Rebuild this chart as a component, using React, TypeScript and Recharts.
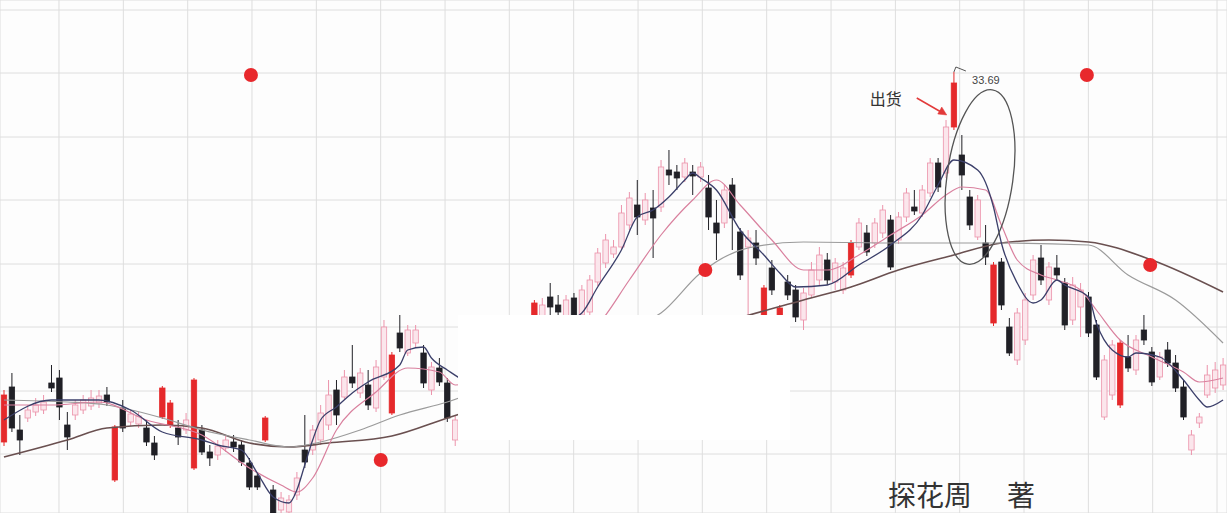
import { ComposedChart, Bar, Line, XAxis, YAxis, CartesianGrid, Scatter, ReferenceArea, ReferenceDot } from "recharts";

// daily candles (price units)
const openPx = [
  18.89, 21.09, 19.37, 19.85, 20.09, 20.17, 21.25, 21.45, 19.57, 19.97,
  20.17, 20.33, 20.45, 20.77, 17.37, 20.25, 19.69, 19.61, 19.45, 18.85,
  19.89, 19.57, 19.45, 19.37, 17.85, 19.37, 18.49, 18.37, 18.65, 18.89,
  18.77, 18.05, 17.53, 18.97, 16.97, 16.17, 16.09, 16.77, 18.57, 18.57,
  18.97, 19.57, 20.97, 20.69, 21.49, 20.85, 21.17, 20.25, 21.49, 20.05,
  23.25, 22.45, 22.85, 22.45, 20.97, 21.85, 21.25, 18.97, 19.29, 19.97,
  19.77, 20.25, 20.77, 20.65, 21.17, 21.77, 21.69, 22.97, 23.45, 24.69,
  24.37, 23.85, 24.65, 23.97, 24.09, 25.29, 26.05, 26.41, 26.69, 27.57,
  28.37, 27.77, 28.25, 28.29, 29.77, 29.69, 29.49, 29.69, 29.49, 29.05,
  27.65, 27.65, 29.17, 27.29, 26.69, 26.85, 23.85, 25.85, 23.85, 25.29,
  24.97, 23.77, 24.77, 25.37, 26.17, 25.29, 24.97, 25.57, 26.69, 27.25,
  26.85, 27.25, 27.77, 26.97, 27.89, 28.29, 28.05, 28.85, 30.05, 29.65,
  31.49, 30.37, 28.69, 27.09, 26.85, 23.65, 26.09, 23.49, 22.17, 22.97,
  24.77, 26.25, 24.57, 25.85, 25.25, 23.77, 24.29, 24.69, 23.57, 19.89,
  20.77, 20.37, 22.29, 21.77, 23.37, 22.49, 21.49, 22.57, 22.05, 21.09,
  18.57, 19.65, 20.77, 21.05, 21.17,
];
const highPx = [
  20.97, 21.65, 19.97, 20.37, 20.65, 20.77, 21.97, 21.77, 20.09, 20.57,
  20.77, 20.97, 20.97, 21.09, 19.57, 20.57, 20.17, 20.09, 19.77, 19.13,
  21.13, 20.57, 19.77, 20.05, 21.45, 19.57, 18.77, 18.97, 19.17, 19.17,
  18.97, 18.25, 17.69, 19.93, 17.17, 16.89, 16.77, 17.69, 19.97, 19.57,
  20.37, 21.37, 21.37, 21.77, 22.77, 21.85, 21.77, 22.17, 23.77, 22.49,
  23.97, 23.57, 23.57, 22.77, 22.09, 22.25, 21.45, 19.97, 20.09, 20.17,
  20.77, 21.05, 20.97, 21.69, 22.09, 21.97, 22.97, 24.57, 24.65, 25.25,
  24.77, 24.77, 24.85, 25.17, 25.57, 26.65, 27.21, 26.97, 28.37, 28.89,
  29.37, 28.85, 28.97, 30.17, 30.57, 29.97, 30.25, 29.97, 30.09, 29.57,
  28.57, 29.17, 29.45, 27.45, 27.37, 27.37, 25.17, 26.17, 24.37, 25.57,
  25.17, 25.05, 26.09, 26.69, 26.45, 26.25, 26.09, 26.97, 27.85, 27.57,
  27.85, 28.37, 27.97, 28.09, 29.05, 28.97, 29.17, 30.25, 30.25, 31.77,
  33.69, 31.17, 28.97, 28.77, 27.57, 26.09, 26.25, 23.85, 24.25, 24.85,
  26.37, 26.77, 26.09, 26.37, 25.45, 25.49, 25.25, 24.89, 23.77, 22.37,
  22.97, 22.97, 23.17, 23.17, 23.97, 22.69, 22.49, 22.89, 22.37, 21.37,
  19.37, 20.05, 21.97, 22.09, 22.25,
];
const lowPx = [
  18.73, 19.29, 18.37, 19.69, 19.93, 20.01, 20.89, 19.77, 18.57, 19.77,
  20.01, 20.17, 20.25, 20.33, 17.29, 19.29, 19.53, 19.45, 18.73, 18.17,
  19.81, 19.45, 18.77, 19.21, 17.77, 18.37, 17.93, 18.17, 18.49, 18.49,
  17.93, 16.97, 16.97, 18.89, 15.77, 15.97, 15.93, 16.57, 17.85, 18.37,
  18.77, 19.37, 19.57, 20.57, 21.05, 20.65, 20.17, 20.09, 21.37, 19.97,
  22.49, 22.33, 22.65, 21.05, 20.77, 21.13, 19.69, 18.73, 19.09, 19.25,
  19.57, 20.09, 19.97, 20.49, 20.97, 21.05, 21.53, 22.85, 23.29, 23.85,
  23.77, 23.69, 23.69, 23.77, 23.93, 25.13, 25.85, 26.25, 26.57, 27.37,
  27.17, 27.57, 26.25, 28.09, 29.17, 28.97, 29.29, 28.77, 29.29, 27.37,
  26.17, 27.45, 26.57, 25.37, 23.77, 25.97, 23.69, 24.77, 23.69, 24.57,
  23.69, 23.37, 24.65, 25.17, 25.17, 24.97, 24.81, 25.45, 26.57, 26.33,
  26.65, 27.05, 25.77, 26.81, 27.69, 27.97, 27.89, 28.69, 28.89, 29.45,
  31.37, 28.97, 27.37, 26.97, 25.97, 23.53, 24.17, 22.33, 21.97, 22.77,
  24.57, 25.17, 24.37, 25.37, 23.37, 23.57, 23.09, 23.09, 21.37, 19.77,
  20.57, 20.25, 21.69, 21.57, 22.77, 21.13, 21.37, 21.89, 20.89, 19.77,
  18.37, 19.45, 20.65, 20.85, 20.97,
];
const closePx = [
  20.77, 19.45, 18.97, 20.17, 20.37, 20.49, 21.05, 20.29, 19.09, 20.37,
  20.57, 20.65, 20.73, 20.49, 19.49, 19.45, 20.01, 19.93, 18.89, 18.37,
  21.05, 20.45, 19.09, 19.77, 21.37, 18.49, 18.25, 18.73, 18.97, 18.69,
  18.09, 17.09, 17.09, 19.85, 16.05, 16.65, 16.57, 17.45, 18.09, 19.37,
  20.05, 20.77, 19.97, 21.49, 21.25, 21.65, 20.37, 21.89, 23.49, 22.37,
  22.65, 23.37, 23.37, 21.25, 21.89, 21.29, 19.85, 19.77, 19.85, 19.45,
  20.57, 20.89, 20.17, 21.45, 21.85, 21.29, 22.77, 24.45, 24.37, 24.29,
  24.09, 24.57, 23.85, 24.97, 25.37, 26.45, 26.97, 26.69, 28.05, 28.65,
  27.89, 28.57, 27.85, 29.89, 29.57, 29.45, 30.05, 29.53, 29.89, 27.89,
  27.25, 28.97, 27.85, 25.57, 27.05, 26.25, 25.05, 24.97, 24.25, 24.77,
  23.89, 24.85, 25.77, 26.37, 25.37, 26.05, 25.85, 26.85, 27.65, 26.49,
  27.65, 28.17, 25.89, 27.89, 28.85, 28.13, 28.97, 30.05, 29.09, 31.49,
  33.25, 29.57, 27.57, 28.57, 26.29, 25.97, 24.37, 22.45, 24.05, 24.57,
  26.17, 25.37, 25.89, 25.57, 23.57, 25.17, 24.97, 23.25, 21.49, 22.17,
  22.77, 22.85, 21.85, 22.97, 22.97, 21.29, 22.29, 22.05, 21.05, 19.89,
  19.17, 19.89, 21.57, 21.77, 21.97,
];
// up days printed solid red in the book
const redDays = [0, 14, 20, 21, 24, 33, 49, 67, 96, 98, 107, 120, 125, 141];

// moving averages, sampled at [day, price]
const ma5Pts: [number, number][] = [
  [0, 19.77], [6, 20.57], [12, 20.57], [16, 20.17], [20, 19.29], [25, 18.97], [27, 18.77], [30, 18.57],
  [32, 17.65], [34, 16.69], [36, 16.45], [37, 16.97], [38, 17.97], [39, 18.97], [40, 19.77], [42, 20.29],
  [44, 20.85], [46, 21.29], [50, 21.97], [51, 22.57], [53, 22.69], [54, 22.25], [56, 21.77], [60, 21.17],
  [63, 21.97], [66, 22.77], [70, 23.57], [73, 24.05], [75, 25.09], [78, 26.57], [80, 27.89], [82, 28.17],
  [84, 28.69], [86, 29.37], [87, 29.65], [88, 29.45], [90, 28.97], [93, 27.37], [96, 26.37], [98, 25.65],
  [100, 25.09], [104, 25.17], [108, 25.97], [112, 26.77], [116, 27.97], [118, 29.17], [120, 30.17], [123, 29.77],
  [125, 28.29], [126, 26.85], [128, 25.25], [130, 24.45], [131, 24.57], [133, 25.37], [134, 25.17], [137, 24.69],
  [138, 23.65], [140, 22.57], [142, 22.29], [143, 22.45], [146, 22.29], [149, 21.37], [151, 20.57], [152, 20.29],
  [154, 20.57],
];
const ma10Pts: [number, number][] = [
  [0, 20.37], [6, 20.37], [12, 20.49], [18, 19.77], [25, 19.17], [31, 17.85], [35, 17.17], [37, 16.89],
  [39, 17.45], [42, 19.37], [47, 20.89], [51, 21.85], [55, 21.69], [57, 21.17], [63, 21.57], [69, 22.57],
  [75, 23.57], [79, 25.37], [83, 27.17], [87, 28.57], [90, 29.37], [93, 28.37], [97, 26.97], [101, 25.77],
  [104, 25.77], [108, 26.37], [112, 27.17], [116, 27.97], [119, 28.77], [121, 29.09], [124, 28.97], [126, 27.57],
  [128, 26.17], [131, 25.57], [133, 25.37], [136, 24.97], [138, 24.17], [141, 22.97], [145, 22.29], [149, 21.69],
  [151, 21.29], [154, 21.45],
];
const ma30Pts: [number, number][] = [
  [0, 20.57], [8, 20.49], [13, 20.37], [20, 19.85], [25, 19.37], [31, 18.97], [36, 18.69], [40, 18.89],
  [45, 19.37], [50, 19.97], [56, 20.49], [69, 22.17], [78, 23.37], [83, 24.05], [88, 25.65], [94, 26.65],
  [101, 26.89], [113, 26.85], [125, 26.85], [137, 26.77], [142, 25.57], [148, 24.57], [154, 22.85],
];
const ma60Pts: [number, number][] = [
  [0, 18.29], [8, 18.97], [13, 19.45], [20, 19.57], [25, 19.45], [31, 18.85], [36, 18.69], [41, 18.85],
  [49, 19.13], [56, 19.85], [75, 21.77], [88, 23.37], [101, 24.57], [107, 25.09], [113, 25.77], [120, 26.37],
  [126, 26.85], [132, 26.97], [137, 26.89], [145, 26.17], [154, 24.89],
];

const redDots = [
  { i: 31.2, p: 33.57 },
  { i: 47.6, p: 18.17 },
  { i: 88.6, p: 25.77 },
  { i: 136.8, p: 33.57 },
  { i: 144.8, p: 25.97 },
];

const gridPrices = [36.17, 33.65, 31.09, 28.57, 26.01, 23.49, 20.93, 18.41];
const gridDays = [
  6.95, 15.08, 23.21, 31.33, 39.46, 47.59, 55.72, 63.84, 71.97, 80.1,
  88.22, 96.35, 104.48, 112.61, 120.73, 128.86, 136.99, 145.11, 153.24,
];

const m5 = new Map(ma5Pts);
const m10 = new Map(ma10Pts);
const m30 = new Map(ma30Pts);
const m60 = new Map(ma60Pts);

const data = openPx.map((open, i) => ({
  i,
  open,
  close: closePx[i],
  high: highPx[i],
  low: lowPx[i],
  range: [lowPx[i], highPx[i]],
  red: redDays.includes(i),
  ma5: m5.get(i),
  ma10: m10.get(i),
  ma30: m30.get(i),
  ma60: m60.get(i),
}));

const CJK = '"Noto Sans CJK SC", "Noto Sans", sans-serif';

function Candle(props: any) {
  const { x, y, width, height, payload } = props;
  if (!payload || height == null) return null;
  const { open, close, high, low, red } = payload;
  const top = Math.min(y, y + height);
  const h = Math.abs(height);
  const k = h / (high - low);
  const yOf = (v: number) => top + (high - v) * k;
  const cx = x + width / 2;
  const up = close >= open;
  const color = up ? (red ? "#e5292b" : "#ec93ab") : "#202026";
  const b1 = yOf(Math.max(open, close));
  const b2 = yOf(Math.min(open, close));
  const bw = 5.4;
  return (
    <g>
      <line x1={cx} x2={cx} y1={top} y2={top + h} stroke={color} strokeWidth={1} />
      <rect
        x={cx - bw / 2}
        y={b1}
        width={bw}
        height={Math.max(b2 - b1, 1.2)}
        fill={up && !red ? "#fbe6ec" : color}
        stroke={color}
        strokeWidth={0.8}
      />
    </g>
  );
}

// ticks only feed the grid, nothing is printed
const NoTick = () => <g />;

export default function App() {
  return (
    <div style={{ position: "absolute", left: 0, top: 0, width: 1227, height: 513, background: "#fdfdfd", overflow: "hidden" }}>
      <ComposedChart
        width={1227}
        height={513}
        data={data}
        margin={{ top: 0, right: 0, bottom: 0, left: 0 }}
        barCategoryGap={0}
        barGap={0}
      >
        <XAxis
          dataKey="i"
          type="number"
          domain={[-0.5, 154.5]}
          ticks={gridDays}
          interval={0}
          height={0}
          tick={NoTick}
          tickLine={false}
          axisLine={false}
        />
        <XAxis xAxisId="cat" dataKey="i" type="category" hide />
        <YAxis
          domain={[16.05, 36.57]}
          allowDataOverflow
          ticks={gridPrices}
          interval={0}
          width={0}
          tick={NoTick}
          tickLine={false}
          axisLine={false}
        />
        <CartesianGrid stroke="#dedede" strokeWidth={1} />
        <Bar xAxisId="cat" dataKey="range" shape={Candle} isAnimationActive={false} />
        <Line dataKey="ma60" type="monotone" stroke="#6a5050" strokeWidth={1.6} dot={false} activeDot={false} connectNulls isAnimationActive={false} />
        <Line dataKey="ma30" type="monotone" stroke="#9b9b9b" strokeWidth={1.2} dot={false} activeDot={false} connectNulls isAnimationActive={false} />
        <Line dataKey="ma10" type="monotone" stroke="#d9809e" strokeWidth={1.2} dot={false} activeDot={false} connectNulls isAnimationActive={false} />
        <Line dataKey="ma5" type="monotone" stroke="#3b3f6a" strokeWidth={1.3} dot={false} activeDot={false} connectNulls isAnimationActive={false} />
        <Scatter
          data={redDots}
          dataKey="p"
          isAnimationActive={false}
          shape={(p: any) => <circle cx={p.cx} cy={p.cy} r={7} fill="#e8282c" />}
        />
        <ReferenceDot
          x={123.3}
          y={29.49}
          shape={(p: any) => (
            <ellipse
              cx={p.cx}
              cy={p.cy}
              rx={33}
              ry={88}
              transform={`rotate(8 ${p.cx} ${p.cy})`}
              fill="none"
              stroke="#555"
              strokeWidth={1.3}
            />
          )}
        />
        <ReferenceDot
          x={111.4}
          y={32.65}
          shape={(p: any) => (
            <text x={p.cx} y={p.cy} textAnchor="middle" dominantBaseline="central" fontSize={16} fill="#333" fontFamily={CJK}>
              出货
            </text>
          )}
        />
        <ReferenceDot
          x={119.1}
          y={31.97}
          shape={(p: any) => (
            <g stroke="#e23a3a" fill="#e23a3a">
              <line x1={p.cx - 30} y1={p.cy - 17} x2={p.cx - 4} y2={p.cy - 2} strokeWidth={1.5} />
              <polygon points={`${p.cx},${p.cy} ${p.cx - 9},${p.cy - 1} ${p.cx - 5},${p.cy - 8}`} strokeWidth={0.5} />
            </g>
          )}
        />
        <ReferenceDot
          x={120}
          y={33.69}
          shape={(p: any) => (
            <path d={`M${p.cx},${p.cy} L${p.cx + 2},${p.cy - 5} L${p.cx + 12},${p.cy - 1}`} fill="none" stroke="#555" strokeWidth={1} />
          )}
        />
        <ReferenceDot
          x={122.3}
          y={33.37}
          shape={(p: any) => (
            <text x={p.cx} y={p.cy} dominantBaseline="central" fontSize={11} fill="#444" fontFamily="Arial, sans-serif">
              33.69
            </text>
          )}
        />
        <ReferenceArea
          x1={57.36}
          x2={99.3}
          y1={18.97}
          y2={23.97}
          fill="#ffffff"
          fillOpacity={1}
          stroke="none"
          zIndex={2000}
        />
      </ComposedChart>
      <div
        style={{
          position: "absolute",
          left: 888,
          top: 480,
          fontSize: 28,
          lineHeight: "28px",
          color: "#333",
          fontFamily: CJK,
          whiteSpace: "nowrap",
        }}
      >
        探花周<span style={{ marginLeft: 35 }}>著</span>
      </div>
    </div>
  );
}
